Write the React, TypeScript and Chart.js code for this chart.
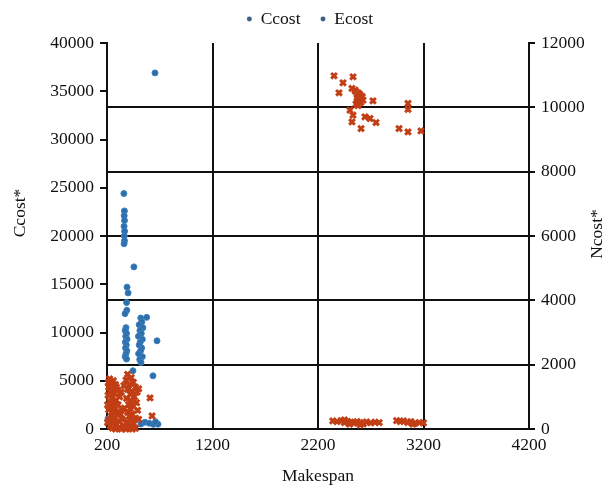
import React, { useEffect, useRef } from "react";
import { Chart, registerables } from "chart.js";

Chart.register(...registerables);

const FONT = '"Liberation Serif", "Times New Roman", serif';
const INK = "#111111";
const BLUE = "#2e6fab";
const RED = "#c23e14";
const LEGEND_DOT = "#3f5f87";

const X_TITLE = "Makespan";
const Y_TITLE = "Ccost*";
const Y1_TITLE = "Ncost*";

const X_TICKS = [200, 1200, 2200, 3200, 4200];
const CCOST_TICKS = [0, 5000, 10000, 15000, 20000, 25000, 30000, 35000, 40000];
const NCOST_TICKS = [0, 2000, 4000, 6000, 8000, 10000, 12000];

// Ccost series (left axis): makespan and cost
const CCOST_MAKESPAN = [
  655,
  360, 365, 363, 366, 362, 367, 364, 366, 362,
  455, 390, 400, 386, 388, 371,
  380, 372, 385, 378, 390, 374, 383, 376, 388, 380, 372, 385,
  520, 530, 505, 540, 512, 525, 498, 535, 515, 505, 528, 518, 500, 535, 510, 522,
  576, 674, 636, 446,
  209, 240, 276, 522, 560, 600, 640, 683, 660,
];
const CCOST_VALUES = [
  36900,
  24400, 22600, 22100, 21600, 21000, 20500, 20000, 19500, 19200,
  16800, 14700, 14100, 13100, 12300, 11950,
  10500, 10200, 9900, 9600, 9300, 9000, 8700, 8400, 8100, 7800, 7500, 7250,
  11500, 11100, 10800, 10500, 10200, 9900, 9600, 9300, 9000, 8700, 8400, 8100, 7800, 7500, 7200, 6900,
  11570, 9140, 5510, 6030,
  1040, 900, 730, 520, 700, 600, 480, 500, 750,
];

// Ecost series (right axis): makespan and cost
const ECOST_MAKESPAN = [
  // short makespan group
  225, 260, 240, 280, 215, 250, 300, 230, 270, 210, 320, 245, 285, 225, 265, 305,
  235, 280, 215, 255, 300, 330, 240, 275, 220, 310, 260, 290, 230, 320, 250, 280, 335,
  212, 290, 335, 205, 340, 205, 345,
  395, 430, 380, 450, 410, 470, 395, 440, 420, 460, 385, 430, 480, 405, 450, 420,
  490, 395, 440, 410, 470, 430, 390, 455, 420, 400, 440, 470, 380, 500, 608, 627,
  360, 485, 365, 500, 360,
  // upper group
  2352, 2437, 2532, 2399, 2522, 2551, 2580, 2600, 2570, 2627, 2590, 2560, 2721,
  2503, 2532, 2522, 2645, 2693, 2750, 2608, 2555, 2590, 2620, 2575, 2605, 2580,
  3053, 3053, 2968, 3053, 3176,
  // lower groups
  2340, 2380, 2420, 2450, 2480, 2510, 2540, 2570, 2600, 2630, 2660, 2700, 2740, 2780,
  2500, 2600, 2450,
  2945, 2980, 3010, 3050, 3080, 3120, 3160, 3200, 3100,
];
const ECOST_VALUES = [
  1560, 1500, 1420, 1380, 1300, 1250, 1200, 1150, 1100, 1050, 1000, 950, 900, 850, 800, 750,
  700, 650, 600, 550, 500, 450, 400, 350, 300, 250, 200, 150, 100, 60, 30, 0, 0,
  1450, 1300, 1150, 750, 600, 200, 300,
  1700, 1600, 1520, 1450, 1380, 1300, 1230, 1160, 1080, 1000, 950, 880, 820, 760, 700, 640,
  580, 520, 460, 400, 340, 280, 220, 160, 100, 40, 0, 20, 0, 1250, 966, 405,
  1350, 1150, 650, 300, 100,
  10981, 10763, 10950, 10451, 10588, 10535, 10450, 10380, 10300, 10224, 10160, 10100, 10202,
  9912, 9756, 9547, 9703, 9653, 9528, 9341, 10500, 10420, 10330, 10250, 10150, 10050,
  10120, 9934, 9341, 9235, 9267,
  250, 230, 260, 200, 240, 210, 180, 230, 200, 160, 220, 190, 210, 200,
  150, 130, 280,
  260, 230, 250, 200, 230, 180, 200, 190, 150,
];

const toPoints = (xs: number[], ys: number[]) => xs.map((x, i) => ({ x, y: ys[i] }));
const fixTicks = (values: number[]) => (scale: any) => {
  scale.ticks = values.map((value) => ({ value }));
};
const plainNumber = (v: any) => String(v);

// Rotated titles for the two value axes, read bottom-to-top
const sideTitles = {
  id: "sideTitles",
  afterDraw(chart: any) {
    const { ctx, chartArea } = chart;
    const draw = (text: string, x: number, y: number) => {
      ctx.save();
      ctx.translate(x, y);
      ctx.rotate(-Math.PI / 2);
      ctx.fillText(text, 0, 0);
      ctx.restore();
    };
    ctx.save();
    ctx.font = `17.5px ${FONT}`;
    ctx.fillStyle = INK;
    ctx.textAlign = "center";
    ctx.textBaseline = "middle";
    draw(Y_TITLE, chartArea.left - 87, chartArea.top + 170);
    draw(Y1_TITLE, chartArea.right + 68, chartArea.top + 191);
    ctx.restore();
  },
};

export default function App() {
  const canvasRef = useRef<HTMLCanvasElement | null>(null);

  useEffect(() => {
    if (!canvasRef.current) return;
    const tickFont = { family: FONT, size: 17.5 };
    const chart = new Chart(canvasRef.current, {
      type: "scatter",
      data: {
        datasets: [
          {
            label: "Ccost",
            data: toPoints(CCOST_MAKESPAN, CCOST_VALUES),
            yAxisID: "y",
            pointStyle: "circle",
            pointRadius: 3,
            backgroundColor: BLUE,
            borderColor: "#3d7fbf",
            borderWidth: 1,
            order: 1,
            clip: false,
          },
          {
            label: "Ecost",
            data: toPoints(ECOST_MAKESPAN, ECOST_VALUES),
            yAxisID: "y1",
            pointStyle: "crossRot",
            pointRadius: 4,
            borderColor: RED,
            backgroundColor: RED,
            borderWidth: 3,
            order: 0,
            clip: false,
          },
        ],
      },
      options: {
        animation: false,
        responsive: true,
        maintainAspectRatio: false,
        layout: { padding: { left: 12, top: -9.75, right: 0, bottom: 0 } },
        plugins: {
          tooltip: { enabled: false },
          legend: {
            position: "top",
            labels: {
              font: tickFont,
              color: INK,
              padding: 20,
              usePointStyle: true,
              pointStyleWidth: 5,
              boxHeight: 3.5,
              sort: (a: any, b: any) => a.datasetIndex - b.datasetIndex,
              generateLabels: (c: any) =>
                Chart.defaults.plugins.legend.labels.generateLabels(c).map((item: any) => ({
                  ...item,
                  pointStyle: "circle",
                  fillStyle: LEGEND_DOT,
                  strokeStyle: LEGEND_DOT,
                  lineWidth: 0,
                })),
            },
          },
          title: {
            display: true,
            text: "",
            weight: 500,
            padding: 0,
            font: { size: 5.25, lineHeight: 1 },
          } as any,
        },
        scales: {
          x: {
            type: "linear",
            position: "bottom",
            min: 200,
            max: 4200,
            afterBuildTicks: fixTicks(X_TICKS),
            afterFit: (s: any) => {
              s.height = 62;
            },
            grid: { color: INK, lineWidth: 2, drawTicks: false },
            border: { color: INK, width: 2 },
            ticks: { font: tickFont, color: INK, padding: 6, maxRotation: 0, callback: plainNumber },
            title: {
              display: true,
              text: X_TITLE,
              color: INK,
              font: tickFont,
              padding: { top: 0, bottom: 4.5 },
            },
          },
          y: {
            type: "linear",
            position: "left",
            min: 0,
            max: 40000,
            afterBuildTicks: fixTicks(CCOST_TICKS),
            afterFit: (s: any) => {
              s.width = 95;
            },
            grid: { drawOnChartArea: false, color: INK, lineWidth: 2, tickLength: 7 },
            border: { color: INK, width: 2 },
            ticks: { font: tickFont, color: INK, padding: 6, callback: plainNumber },
          },
          y1: {
            type: "linear",
            position: "right",
            min: 0,
            max: 12000,
            afterBuildTicks: fixTicks(NCOST_TICKS),
            afterFit: (s: any) => {
              s.width = 79;
            },
            grid: {
              drawOnChartArea: true,
              color: (ctx: any) => (ctx.tick && ctx.tick.value === 12000 ? "rgba(0,0,0,0)" : INK),
              tickColor: INK,
              lineWidth: 2,
              tickLength: 6,
            },
            border: { color: INK, width: 2 },
            ticks: { font: tickFont, color: INK, padding: 6, callback: plainNumber },
          },
        },
      },
      plugins: [sideTitles],
    });
    return () => chart.destroy();
  }, []);

  return (
    <div style={{ position: "fixed", left: 0, top: 0, width: 608, height: 491, background: "#fff" }}>
      <canvas ref={canvasRef} />
    </div>
  );
}
